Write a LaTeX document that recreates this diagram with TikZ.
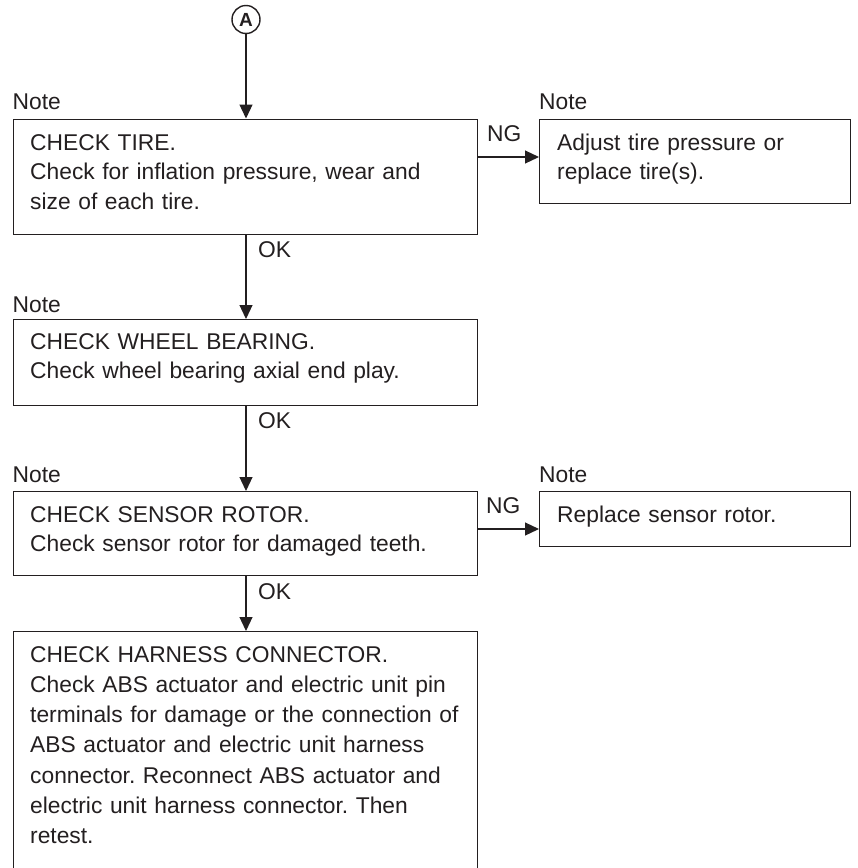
\documentclass[tikz,border=0pt]{standalone}
\usepackage{fontspec}
\setmainfont{Liberation Sans}
\usetikzlibrary{arrows.meta}
\definecolor{ink}{RGB}{35,31,32}
\frenchspacing
\tikzset{
  box/.style={draw=ink, line width=1.4pt, rectangle, inner sep=0pt, anchor=north west},
  txt/.style={text=ink, inner sep=0pt, anchor=base west, text width=440pt, align=left,
              font=\fontsize{22.8}{29.6}\selectfont\frenchspacing},
  lbl/.style={text=ink, inner sep=0pt, anchor=base west, font=\fontsize{22.8}{29.6}\selectfont},
  conn/.style={draw=ink, line width=1.2pt, -{Triangle[length=14pt,width=13pt]}},
  circ/.style={draw=ink, line width=1.4pt, circle, minimum size=28pt, inner sep=0pt,
               text=ink, font=\fontsize{19}{19}\selectfont\bfseries}
}
\begin{document}
\begin{tikzpicture}[x=1pt,y=-1pt]
\useasboundingbox (0,0) rectangle (858,868);

% start connector
\node[circ] (A) at (246,19.5) {A};

% boxes
\node[box, minimum width=464.5pt, minimum height=115.5pt] (b1) at (12.5,118.5) {};
\node[box, minimum width=311pt,   minimum height=84.5pt]  (b2) at (539,118.5) {};
\node[box, minimum width=464.5pt, minimum height=86pt]    (b3) at (12.5,319) {};
\node[box, minimum width=464.5pt, minimum height=84pt]    (b4) at (12.5,491) {};
\node[box, minimum width=311pt,   minimum height=55pt]    (b5) at (539,491) {};
\node[box, minimum width=464.5pt, minimum height=260pt]   (b6) at (12.5,631) {};

% "Note" labels
\node[lbl] (n1) at (12.5,109.5) {Note};
\node[lbl] (n2) at (539,109.5) {Note};
\node[lbl] (n3) at (12.5,312) {Note};
\node[lbl] (n4) at (12.5,482) {Note};
\node[lbl] (n5) at (539,482) {Note};

% box texts
\node[txt] (t1) at (30,150) {CHECK TIRE.\\Check for inflation pressure, wear and\\size of each tire.};
\node[txt, text width=290pt] (t2) at (557,150) {Adjust tire pressure or\\replace tire(s).};
\node[txt] (t3) at (30,349) {CHECK WHEEL BEARING.\\Check wheel bearing axial end play.};
\node[txt] (t4) at (30,522) {CHECK SENSOR ROTOR.\\Check sensor rotor for damaged teeth.};
\node[txt, text width=290pt] (t5) at (557,522) {Replace sensor rotor.};
\node[txt, text width=460pt, font=\fontsize{22.8}{30.3}\selectfont\frenchspacing] (t6) at (30,662) {CHECK HARNESS CONNECTOR.\\Check ABS actuator and electric unit pin\\terminals for damage or the connection of\\ABS actuator and electric unit harness\\connector. Reconnect ABS actuator and\\electric unit harness connector. Then\\retest.};

% connectors
\coordinate (y1) at (0,157);
\coordinate (y2) at (0,529);
\draw[conn] (A.south) -- (A.south |- b1.north);
\draw[conn] (b1.south -| A) -- (b3.north -| A);
\draw[conn] (b3.south -| A) -- (b4.north -| A);
\draw[conn] (b4.south -| A) -- (b6.north -| A);
\draw[conn] (b1.east |- y1) -- (b2.west |- y1);
\draw[conn] (b4.east |- y2) -- (b5.west |- y2);

% connector labels
\node[lbl] (ok1) at (258,257) {OK};
\node[lbl] (ok2) at (258,428) {OK};
\node[lbl] (ok3) at (258,599) {OK};
\node[lbl] (ng1) at (487,141) {NG};
\node[lbl] (ng2) at (486,513) {NG};
\end{tikzpicture}
\end{document}
